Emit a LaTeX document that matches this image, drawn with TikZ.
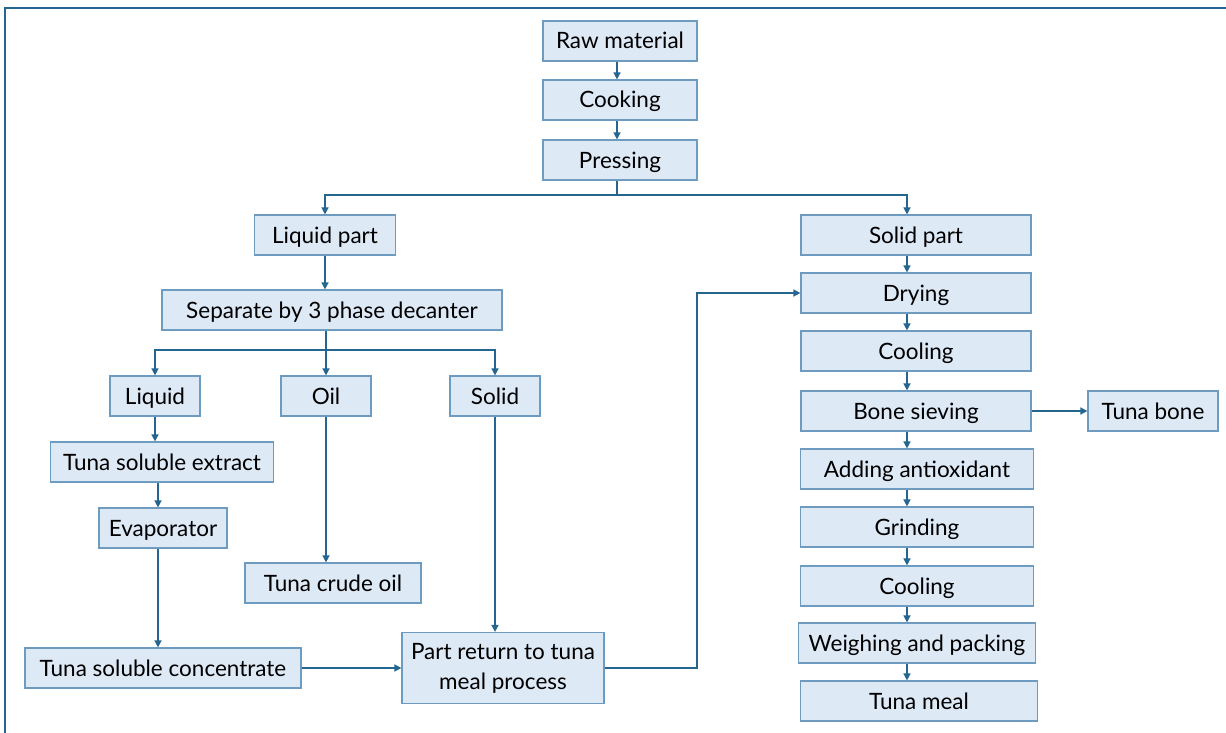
\documentclass[tikz,border=0pt]{standalone}
\usepackage{fontspec}
\setmainfont{Lato}
\usepackage{tikz}
\usetikzlibrary{arrows.meta, positioning}
\definecolor{boxfill}{HTML}{DEE9F6}
\definecolor{boxline}{HTML}{6E9CC0}
\definecolor{flowline}{HTML}{24668F}
\tikzstyle{basebox} = [draw=boxline, fill=boxfill, line width=1.2pt, rectangle, minimum height=40pt, inner sep=0pt, font=\fontsize{22.5}{30}\selectfont]
\tikzstyle{stepbox} = [basebox, text height=16pt, text depth=0pt]
\tikzstyle{flow} = [draw=flowline, line width=1.5pt, -{Triangle[length=7pt,width=7pt]}]
\tikzstyle{plain} = [draw=flowline, line width=1.5pt]

\begin{document}
\begin{tikzpicture}[x=1pt, y=-1pt]
		\useasboundingbox (0,0) rectangle (1226,733);
		% frame
		\draw[draw=flowline, line width=2pt] (1240,8) -- (5,8) -- (5,745);
		% top column
		\node[stepbox, minimum width=154pt] (raw) at (620,41) {Raw material};
		\node[stepbox, minimum width=154pt] (cook) at (620,100) {Cooking};
		\node[stepbox, minimum width=154pt] (press) at (620,160) {Pressing};
		% liquid side
		\node[stepbox, minimum width=141pt] (liqp) at (325,235) {Liquid part};
		\node[stepbox, minimum width=340pt] (dec) at (332,310) {Separate by 3 phase decanter};
		\node[stepbox, minimum width=90pt] (liq) at (155,396) {Liquid};
		\node[stepbox, minimum width=90pt] (oil) at (326,396) {Oil};
		\node[stepbox, minimum width=90pt] (sol) at (495,396) {Solid};
		\node[stepbox, minimum width=223pt] (ext) at (162,462) {Tuna soluble extract};
		\node[stepbox, minimum width=128pt] (evap) at (163,528) {Evaporator};
		\node[stepbox, minimum width=176pt] (crude) at (333,583) {Tuna crude oil};
		\node[stepbox, minimum width=276pt] (tsc) at (163,668) {Tuna soluble concentrate};
		\node[basebox, align=center, minimum width=202pt, minimum height=71pt] (part) at (503,668) {Part return to tuna\\meal process};
		% solid side
		\coordinate (rc) at (907,0);
		\node[stepbox, minimum width=230pt] (solp) at (916,235) {Solid part};
		\node[stepbox, minimum width=230pt] (dry) at (916,293) {Drying};
		\node[stepbox, minimum width=230pt] (cool) at (916,351) {Cooling};
		\node[stepbox, minimum width=230pt] (sieve) at (916,411) {Bone sieving};
		\node[stepbox, minimum width=130pt] (bone) at (1153,411) {Tuna bone};
		\node[stepbox, minimum width=233pt] (anti) at (917,469) {Adding antioxidant};
		\node[stepbox, minimum width=233pt] (grind) at (917,527) {Grinding};
		\node[stepbox, minimum width=233pt] (cool2) at (917,586) {Cooling};
		\node[stepbox, minimum width=237pt] (pack) at (917,643) {Weighing and packing};
		\node[stepbox, minimum width=237pt] (meal) at (919,701) {Tuna meal};

		\draw[flow] (raw.south -| 617,0) -- (cook.north -| 617,0);
		\draw[flow] (cook.south -| 617,0) -- (press.north -| 617,0);
		\draw[plain] (press.south -| 617,0) -- (617,195) coordinate (br1);
		\draw[flow] (br1) -| (liqp.north);
		\draw[flow] (br1) -| (solp.north -| rc);
		\draw[flow] (liqp) -- (dec.north -| liqp);
		\draw[plain] (dec.south -| oil) -- (326,350) coordinate (br2);
		\draw[flow] (br2) -| (liq.north);
		\draw[flow] (br2) -- (oil.north);
		\draw[flow] (br2) -| (sol.north);
		\draw[flow] (liq) -- (ext.north -| liq);
		\draw[flow] (ext.south -| 158,0) -- (evap.north -| 158,0);
		\draw[flow] (oil) -- (crude.north -| oil);
		\draw[flow] (evap.south -| 158,0) -- (tsc.north -| 158,0);
		\draw[flow] (sol) -- (part.north -| sol);
		\draw[flow] (tsc) -- (part);
		\draw[flow] (part.east) -- (697,668) |- (dry.west);
		\draw[flow] (solp.south -| rc) -- (dry.north -| rc);
		\draw[flow] (dry.south -| rc) -- (cool.north -| rc);
		\draw[flow] (cool.south -| rc) -- (sieve.north -| rc);
		\draw[flow] (sieve) -- (bone);
		\draw[flow] (sieve.south -| rc) -- (anti.north -| rc);
		\draw[flow] (anti.south -| rc) -- (grind.north -| rc);
		\draw[flow] (grind.south -| rc) -- (cool2.north -| rc);
		\draw[flow] (cool2.south -| rc) -- (pack.north -| rc);
		\draw[flow] (pack.south -| rc) -- (meal.north -| rc);
	\end{tikzpicture}
\end{document}
